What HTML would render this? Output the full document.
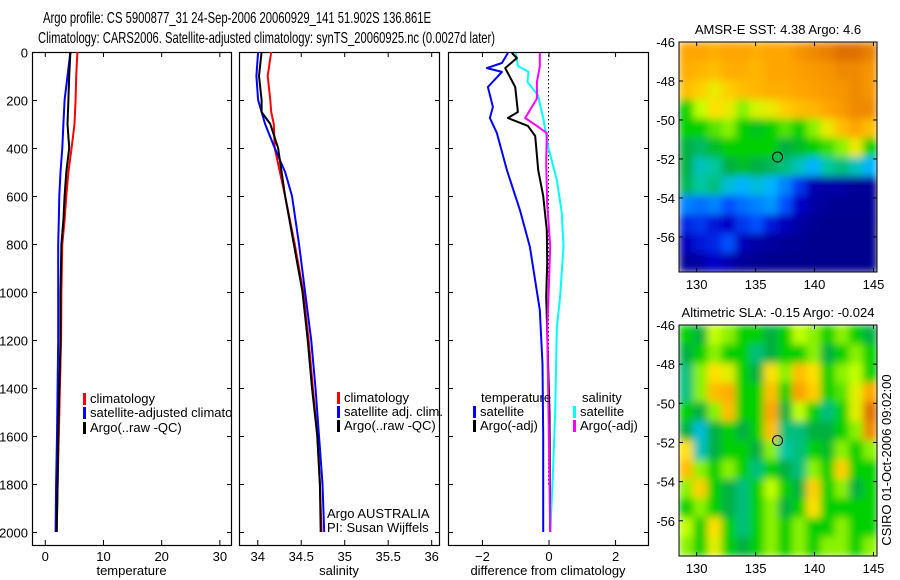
<!DOCTYPE html>
<html><head><meta charset="utf-8"><style>
html,body{margin:0;padding:0;background:#fff;}
svg{display:block;font-family:"Liberation Sans",sans-serif;}
</style></head><body>
<svg id="fig" width="900" height="580" viewBox="0 0 900 580" xmlns="http://www.w3.org/2000/svg">
<defs>
<clipPath id="clipP1"><rect x="32" y="52" width="199" height="493"/></clipPath>
<clipPath id="clipM1"><rect x="679" y="42" width="198" height="230"/></clipPath>
<clipPath id="clipM2"><rect x="679" y="325" width="198" height="231"/></clipPath>
<filter id="blur" x="-5%" y="-5%" width="110%" height="110%"><feGaussianBlur stdDeviation="4" edgeMode="duplicate"/></filter>
</defs>
<text x="43" y="23" font-size="16" textLength="388" lengthAdjust="spacingAndGlyphs">Argo profile: CS 5900877_31 24-Sep-2006 20060929_141 51.902S 136.861E</text>
<text x="38" y="43" font-size="16" textLength="457" lengthAdjust="spacingAndGlyphs">Climatology: CARS2006. Satellite-adjusted climatology: synTS_20060925.nc (0.0027d later)</text>
<g id="g"></g>
</svg>
<script>
// ---------- data ----------
const depthT = [0,100,200,300,400,500,600,700,800,1000,1200,1400,1600,1800,2000];
const tempClim = [5.6,5.4,5.3,5.1,4.6,4.05,3.7,3.4,3.0,2.85,2.8,2.6,2.4,2.2,2.05];
const tempSat = [4.4,3.9,3.4,3.2,3.0,2.7,2.5,2.4,2.3,2.3,2.3,2.2,2.1,1.95,1.85];
const tempArgo = [4.4,4.2,4.05,3.9,4.2,3.7,3.4,3.2,2.85,2.7,2.7,2.5,2.3,2.2,2.05];
const depthS = [0,100,200,250,300,400,500,600,800,1000,1200,1400,1600,1800,2000];
const salClim = [34.16,34.12,34.15,34.16,34.19,34.20,34.26,34.32,34.43,34.53,34.59,34.64,34.69,34.72,34.74];
const salSat = [34.01,33.99,34.01,34.05,34.09,34.20,34.32,34.40,34.48,34.55,34.62,34.67,34.71,34.75,34.77];
const salArgo = [34.05,34.02,34.05,34.05,34.15,34.24,34.28,34.32,34.42,34.52,34.58,34.63,34.69,34.72,34.73];
const dTsatDepth = [4,46,67,83,146,229,275,338,492,658,812,1075,1300,1600,2000];
const dTsat = [-1.22,-1.4,-1.85,-1.4,-1.82,-1.67,-1.76,-1.55,-1.25,-0.86,-0.56,-0.26,-0.18,-0.16,-0.16];
const dTargoDepth = [4,25,67,146,250,275,308,350,492,600,742,880,1020,1500,2000];
const dTargo = [-1.1,-0.95,-1.3,-1.0,-0.92,-1.22,-0.62,-0.4,-0.31,-0.16,-0.05,-0.04,-0.07,0.03,0.05];
const dSsatDepth = [4,58,83,125,180,275,400,533,670,810,1020,1150,1500,1800,2000];
const dSsat = [-0.98,-0.92,-0.6,-0.63,-0.32,-0.16,0.0,0.25,0.4,0.45,0.35,0.25,0.2,0.12,0.05];
const dSargoDepth = [4,60,125,194,275,308,338,467,633,810,1020,1150,1500,2000];
const dSargo = [-0.26,-0.26,-0.35,-0.35,-0.7,-0.35,-0.05,-0.07,-0.04,0.05,0.0,-0.04,0.0,0.05];
const depthTicks = [0,200,400,600,800,1000,1200,1400,1600,1800,2000];
const tTicks = [0,10,20,30];
const sTicks = [34,34.5,35,35.5,36];
const dTicks = [-2,0,2];
const lonTicks = [130,135,140,145];
const latTicks = [-46,-48,-50,-52,-54,-56];
const sstGrid = [
[.75,.75,.74,.75,.75,.74,.75,.75,.78,.8,.82,.85,.85,.82],
[.74,.73,.72,.74,.74,.73,.75,.75,.76,.77,.78,.8,.8,.78],
[.72,.7,.66,.7,.72,.73,.74,.74,.75,.76,.77,.78,.8,.78],
[.55,.62,.68,.66,.6,.64,.66,.7,.72,.73,.75,.77,.8,.8],
[.55,.55,.58,.6,.55,.53,.55,.58,.55,.6,.66,.72,.75,.72],
[.5,.47,.52,.55,.55,.55,.55,.5,.52,.55,.57,.6,.66,.55],
[.5,.4,.42,.5,.52,.5,.48,.45,.4,.35,.42,.45,.4,.35],
[.48,.42,.45,.38,.35,.38,.35,.3,.22,.1,.08,.08,.05,.05],
[.3,.28,.3,.25,.28,.3,.32,.25,.15,.08,.05,.04,.04,.04],
[.2,.22,.18,.15,.22,.25,.18,.12,.08,.04,.03,.03,.03,.03],
[.12,.18,.2,.25,.12,.08,.06,.05,.04,.03,.03,.03,.03,.03],
[.05,.08,.15,.1,.05,.04,.03,.03,.03,.03,.03,.03,.03,.03]];
const slaGrid = [
[.55,.5,.62,.6,.55,.55,.5,.55,.62,.6,.55,.6,.55,.5],
[.5,.55,.6,.55,.55,.45,.5,.55,.55,.6,.5,.55,.6,.55],
[.45,.6,.68,.65,.55,.5,.68,.6,.72,.68,.55,.6,.62,.55],
[.45,.6,.72,.74,.55,.55,.72,.55,.76,.7,.55,.58,.65,.75],
[.55,.5,.6,.72,.55,.55,.75,.5,.62,.55,.45,.55,.65,.85],
[.5,.38,.5,.55,.5,.55,.72,.45,.45,.5,.5,.55,.6,.8],
[.68,.4,.5,.55,.55,.5,.6,.42,.45,.55,.52,.6,.55,.6],
[.72,.6,.55,.6,.55,.45,.55,.5,.45,.6,.55,.7,.55,.55],
[.6,.7,.55,.5,.45,.55,.62,.55,.5,.7,.55,.6,.5,.55],
[.55,.6,.55,.5,.45,.55,.6,.5,.55,.68,.55,.55,.55,.55],
[.62,.55,.68,.55,.45,.55,.6,.55,.6,.55,.55,.6,.55,.55],
[.6,.55,.65,.55,.5,.55,.6,.55,.6,.55,.6,.6,.55,.6]];
const argoLon = 136.861, argoLat = -51.902;

// ---------- helpers ----------
const NS="http://www.w3.org/2000/svg";
const G=document.getElementById('g');
function mk(tag,attrs,parent){const e=document.createElementNS(NS,tag);for(const k in attrs)e.setAttribute(k,attrs[k]);(parent||G).appendChild(e);return e;}
const top0=52, bot=545;
function yD(d){return 52+d*0.24;}
function lin(d0,d1,r0,r1){return v=>r0+(v-d0)/(d1-d0)*(r1-r0);}
const xT=lin(-2.2,32,32,231), xS=lin(33.79,36.09,239,439), xDf=lin(-3.02,2.99,448,648);

function panel(x0,x1,xf,ticks,fmt,xlabel,showY,name){
  const r=mk('rect',{x:x0+0.5,y:top0+0.5,width:x1-x0,height:bot-top0,fill:'none',stroke:'#000','stroke-width':1.2});
  
  
  depthTicks.forEach(d=>{
    const y=yD(d)+0.5;
    mk('line',{x1:x0,x2:x0+5,y1:y,y2:y,stroke:'#000'});
    mk('line',{x1:x1-4,x2:x1+1,y1:y,y2:y,stroke:'#000'});
    if(showY){const t=mk('text',{x:x0-4,y:y+5,'font-size':13,'text-anchor':'end'});t.textContent=d;
      
      }
  });
  ticks.forEach(v=>{
    const x=xf(v)+0.5;
    mk('line',{x1:x,x2:x,y1:bot,y2:bot-5,stroke:'#000'});
    mk('line',{x1:x,x2:x,y1:top0,y2:top0+5,stroke:'#000'});
    const t=mk('text',{x:x,y:bot+16,'font-size':13,'text-anchor':'middle'});t.textContent=fmt(v);
    
    
  });
  const l=mk('text',{x:(x0+x1)/2,y:bot+30,'font-size':13,'text-anchor':'middle'});l.textContent=xlabel;
  
  
}
function series(xs,ds,xf,color,name,w){
  const pts=xs.map((v,i)=>xf(v).toFixed(1)+','+yD(ds[i]).toFixed(1)).join(' ');
  const p=mk('polyline',{points:pts,fill:'none',stroke:color,'stroke-width':w||2,'stroke-linejoin':'round'});
  
  
}
function legend(x,y,color,label,name,parent){
  if(color){mk('rect',{x:x,y:y-10,width:3,height:12,fill:color},parent);}
  const t=mk('text',{x:x+7,y:y,'font-size':13},parent);t.textContent=label;
  
  
}

// Panel 1 temperature
panel(32,231,xT,tTicks,v=>v,'temperature',true,'temperature-panel');
series(tempClim,depthT,xT,'#ff0000','temperature-climatology-line');
series(tempSat,depthT,xT,'#0000ff','temperature-satellite-line');
series(tempArgo,depthT,xT,'#000000','temperature-argo-line');
const lg1=mk('g',{'clip-path':'url(#clipP1)'});


legend(83,403,'#ff0000','climatology','legend-climatology',lg1);
legend(83,417,'#0000ff','satellite-adjusted climatology','legend-satellite-adjusted',lg1);
legend(83,432,'#000000','Argo(..raw -QC)','legend-argo',lg1);
// Panel 2 salinity
panel(239,439,xS,sTicks,v=>v,'salinity',false,'salinity-panel');
series(salClim,depthS,xS,'#ff0000','salinity-climatology-line');
series(salSat,depthS,xS,'#0000ff','salinity-satellite-line');
series(salArgo,depthS,xS,'#000000','salinity-argo-line');
legend(337,402,'#ff0000','climatology','legend-sal-climatology');
legend(337,416,'#0000ff','satellite adj. clim.','legend-sal-satellite');
legend(337,430,'#000000','Argo(..raw -QC)','legend-sal-argo');
legend(320,518,null,'Argo AUSTRALIA','argo-australia-label');
legend(320,532,null,'PI: Susan Wijffels','pi-label');
// Panel 3 differences
panel(448,648,xDf,dTicks,v=>v===0?'0':(v<0?'\u2212'+(-v):v),'difference from climatology',false,'difference-panel');
for(let y=top0+3;y<bot-60;y+=4){mk('rect',{x:548,y:y,width:1,height:1.5,fill:'#000'});}
series(dTsat,dTsatDepth,xDf,'#0000ff','diff-temp-satellite-line');
series(dSsat,dSsatDepth,xDf,'#00ffff','diff-sal-satellite-line');
series(dTargo,dTargoDepth,xDf,'#000000','diff-temp-argo-line');
series(dSargo,dSargoDepth,xDf,'#ff00ff','diff-sal-argo-line');
legend(474,402,null,'temperature','legend-temperature-header');
legend(473,416,'#0000ff','satellite','legend-temp-satellite');
legend(473,430,'#000000','Argo(-adj)','legend-temp-argo');
legend(575,402,null,'salinity','legend-salinity-header');
legend(573,416,'#00ffff','satellite','legend-sal-sat');
legend(573,430,'#ff00ff','Argo(-adj)','legend-sal-argo-adj');

// ---------- maps ----------
const stops=[[0,[0,0,128]],[.15,[0,0,200]],[.25,[0,80,255]],[.35,[0,180,255]],[.42,[0,200,160]],[.5,[0,176,64]],[.55,[0,208,0]],[.62,[192,255,0]],[.68,[255,224,0]],[.75,[255,165,0]],[.85,[224,112,0]],[1,[160,32,0]]];
function cmap(v){for(let i=1;i<stops.length;i++){if(v<=stops[i][0]){const a=stops[i-1],b=stops[i],f=(v-a[0])/(b[0]-a[0]);return 'rgb('+a[1].map((c,k)=>Math.round(c+(b[1][k]-c)*f)).join(',')+')';}}return 'rgb(160,32,0)';}
function map(grid,x0,y0,w,h,title,name,clip){
  const lonF=lin(128.5,145.3,x0,x0+w), latF=lin(-46,-57.8,y0,y0+h);
  const rows=grid.length, cols=grid[0].length, cw=w/cols, ch=h/rows;
  const outer=mk('g',{'clip-path':'url(#'+clip+')'});
  
  
  const inner=mk('g',{filter:'url(#blur)'},outer);
  grid.forEach((row,r)=>row.forEach((v,c)=>{
    const e=mk('rect',{x:x0+c*cw,y:y0+r*ch,width:cw+0.6,height:ch+0.6,fill:cmap(v)},inner);
    
    
  }));
  const f=mk('rect',{x:x0,y:y0,width:w,height:h,fill:'none',stroke:'#000','stroke-width':1});
  
  
  lonTicks.forEach(v=>{const x=lonF(v);
    mk('line',{x1:x,x2:x,y1:y0+h,y2:y0+h-4,stroke:'#000'});
    mk('line',{x1:x,x2:x,y1:y0,y2:y0+4,stroke:'#000'});
    const t=mk('text',{x:x,y:y0+h+17,'font-size':13,'text-anchor':'middle'});t.textContent=v;
    
    });
  latTicks.forEach(v=>{const y=latF(v);
    mk('line',{x1:x0,x2:x0+4,y1:y,y2:y,stroke:'#000'});
    mk('line',{x1:x0+w-4,x2:x0+w,y1:y,y2:y,stroke:'#000'});
    const t=mk('text',{x:x0-4,y:y+5,'font-size':13,'text-anchor':'end'});t.textContent='-'+(-v);
    
    });
  const c=mk('circle',{cx:lonF(argoLon),cy:latF(argoLat),r:5,fill:'none',stroke:'#000','stroke-width':1});
  
  
  const t=mk('text',{x:x0+w/2,y:y0-8,'font-size':13,'text-anchor':'middle'});t.textContent=title;
  
  
}
map(sstGrid,679,42,198,230,'AMSR-E SST: 4.38 Argo: 4.6','sst-map','clipM1');
map(slaGrid,679,325,198,231,'Altimetric SLA: -0.15 Argo: -0.024','sla-map','clipM2');
const ts=mk('text',{x:0,y:0,'font-size':13,'text-anchor':'middle',transform:'translate(891,460) rotate(-90)'});
ts.textContent='CSIRO 01-Oct-2006 09:02:00';


</script>
</body></html>
